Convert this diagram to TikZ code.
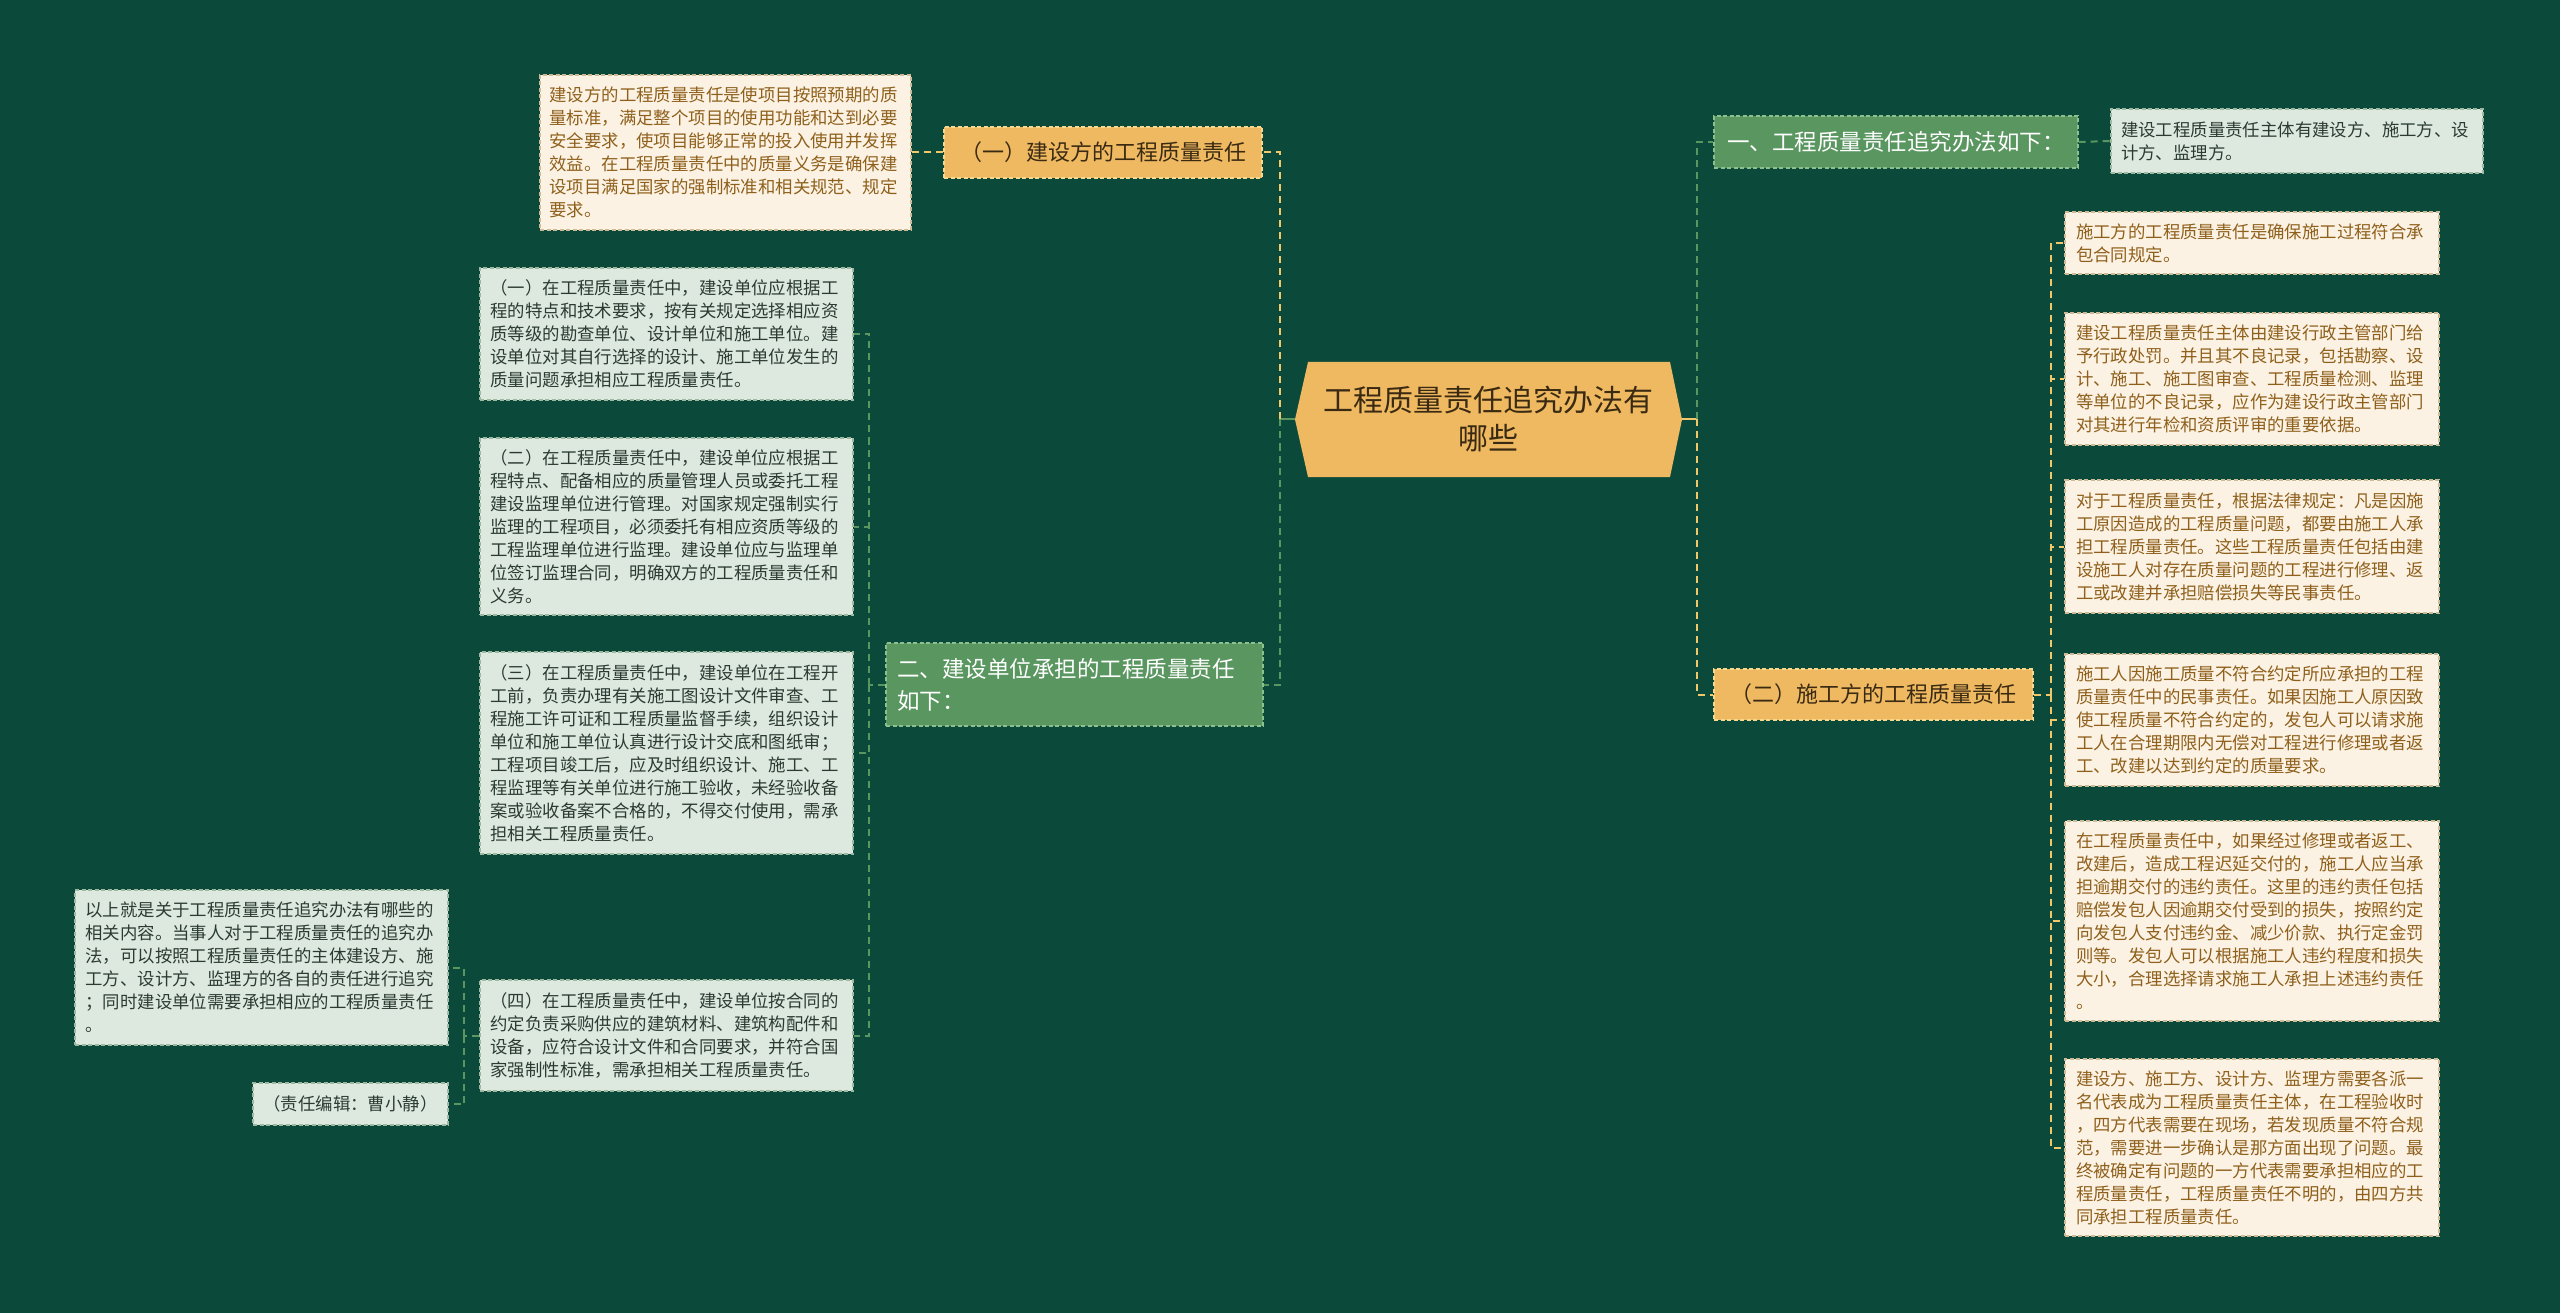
\documentclass[tikz,border=0pt]{standalone}
\usepackage{fontspec}
\setmainfont{Noto Sans CJK SC}
\usetikzlibrary{calc}
\definecolor{bgc}{HTML}{0B4A3B}
\definecolor{orng}{HTML}{EFB962}
\definecolor{orngb}{HTML}{F8D78F}
\definecolor{darkt}{HTML}{3A2A12}
\definecolor{cream}{HTML}{FCF2E3}
\definecolor{creamb}{HTML}{CDBB98}
\definecolor{creamt}{HTML}{8E601C}
\definecolor{pale}{HTML}{DDE9DF}
\definecolor{paleb}{HTML}{9EB8A2}
\definecolor{palet}{HTML}{2B3B33}
\definecolor{grn}{HTML}{5A9660}
\definecolor{grnb}{HTML}{8CC08F}
\definecolor{ylw}{HTML}{F0C86A}
\tikzset{
  base/.style={rectangle, inner sep=0pt, align=left, dash pattern=on 4pt off 2.5pt, line width=1.2pt},
  creambox/.style={base, fill=cream, draw=creamb, text=creamt, font=\fontsize{17.4}{23}\selectfont},
  palebox/.style={base, fill=pale, draw=paleb, text=palet, font=\fontsize{17.4}{23}\selectfont},
  orangebox/.style={base, fill=orng, draw=orngb, text=darkt, align=center, font=\fontsize{22}{30}\selectfont},
  greenbox/.style={base, fill=grn, draw=grnb, text=white, font=\fontsize{22.5}{32}\selectfont},
  yline/.style={draw=ylw, line width=2pt, dash pattern=on 7pt off 5pt},
  gline/.style={draw=grn, line width=2pt, dash pattern=on 7pt off 5pt},
}
\begin{document}
\begin{tikzpicture}[x=1pt,y=-1pt]
\useasboundingbox (0,0) rectangle (2560,1313);
\fill[bgc] (0,0) rectangle (2560,1313);

% central hexagon
\fill[orng] (1295,419.5) -- (1308,362) -- (1670,362) -- (1682,419.5) -- (1670,477) -- (1308,477) -- cycle;
\node[inner sep=0pt, minimum width=387pt, minimum height=115pt, align=center, text=darkt,
      font=\fontsize{30}{38}\selectfont] (ctr) at (1488.5,419.5) {工程质量责任追究办法有\\哪些};

% left branch 1
\node[orangebox, minimum width=318pt, minimum height=51pt] (L1) at (1103,152.5) {（一）建设方的工程质量责任};
\node[creambox, minimum width=371pt, minimum height=155pt, text width=352pt] (A) at (725.5,152.5)
{建设方的工程质量责任是使项目按照预期的质\\量标准，满足整个项目的使用功能和达到必要\\安全要求，使项目能够正常的投入使用并发挥\\效益。在工程质量责任中的质量义务是确保建\\设项目满足国家的强制标准和相关规范、规定\\要求。};

% left branch 2
\node[greenbox, minimum width=377pt, minimum height=83pt, text width=355pt] (L2) at (1074.5,684.5) {二、建设单位承担的工程质量责任\\如下：};
\node[palebox, minimum width=373pt, minimum height=132pt, text width=352pt] (C1) at (666.5,334)
{（一）在工程质量责任中，建设单位应根据工\\程的特点和技术要求，按有关规定选择相应资\\质等级的勘查单位、设计单位和施工单位。建\\设单位对其自行选择的设计、施工单位发生的\\质量问题承担相应工程质量责任。};
\node[palebox, minimum width=373pt, minimum height=177pt, text width=352pt] (C2) at (666.5,526.5)
{（二）在工程质量责任中，建设单位应根据工\\程特点、配备相应的质量管理人员或委托工程\\建设监理单位进行管理。对国家规定强制实行\\监理的工程项目，必须委托有相应资质等级的\\工程监理单位进行监理。建设单位应与监理单\\位签订监理合同，明确双方的工程质量责任和\\义务。};
\node[palebox, minimum width=373pt, minimum height=202pt, text width=352pt] (C3) at (666.5,753)
{（三）在工程质量责任中，建设单位在工程开\\工前，负责办理有关施工图设计文件审查、工\\程施工许可证和工程质量监督手续，组织设计\\单位和施工单位认真进行设计交底和图纸审；\\工程项目竣工后，应及时组织设计、施工、工\\程监理等有关单位进行施工验收，未经验收备\\案或验收备案不合格的，不得交付使用，需承\\担相关工程质量责任。};
\node[palebox, minimum width=373pt, minimum height=111pt, text width=352pt] (C4) at (666.5,1035.5)
{（四）在工程质量责任中，建设单位按合同的\\约定负责采购供应的建筑材料、建筑构配件和\\设备，应符合设计文件和合同要求，并符合国\\家强制性标准，需承担相关工程质量责任。};
\node[palebox, minimum width=373pt, minimum height=155pt, text width=352pt] (D1) at (261.5,967.5)
{以上就是关于工程质量责任追究办法有哪些的\\相关内容。当事人对于工程质量责任的追究办\\法，可以按照工程质量责任的主体建设方、施\\工方、设计方、监理方的各自的责任进行追究\\；同时建设单位需要承担相应的工程质量责任\\。};
\node[palebox, align=center, minimum width=195pt, minimum height=42pt] (D2) at (350.5,1104) {（责任编辑：曹小静）};

% right branch 1
\node[greenbox, minimum width=364pt, minimum height=52pt, align=center] (R1) at (1896,142) {一、工程质量责任追究办法如下：};
\node[palebox, minimum width=372pt, minimum height=64pt, text width=352pt] (R1c) at (2297,141)
{建设工程质量责任主体有建设方、施工方、设\\计方、监理方。};

% right branch 2
\node[orangebox, minimum width=319pt, minimum height=51pt] (R2) at (1873.5,694.5) {（二）施工方的工程质量责任};
\node[creambox, minimum width=374pt, minimum height=62pt, text width=352pt] (E1) at (2252,243)
{施工方的工程质量责任是确保施工过程符合承\\包合同规定。};
\node[creambox, minimum width=374pt, minimum height=132pt, text width=352pt] (E2) at (2252,379)
{建设工程质量责任主体由建设行政主管部门给\\予行政处罚。并且其不良记录，包括勘察、设\\计、施工、施工图审查、工程质量检测、监理\\等单位的不良记录，应作为建设行政主管部门\\对其进行年检和资质评审的重要依据。};
\node[creambox, minimum width=374pt, minimum height=133pt, text width=352pt] (E3) at (2252,546.5)
{对于工程质量责任，根据法律规定：凡是因施\\工原因造成的工程质量问题，都要由施工人承\\担工程质量责任。这些工程质量责任包括由建\\设施工人对存在质量问题的工程进行修理、返\\工或改建并承担赔偿损失等民事责任。};
\node[creambox, minimum width=374pt, minimum height=132pt, text width=352pt] (E4) at (2252,720)
{施工人因施工质量不符合约定所应承担的工程\\质量责任中的民事责任。如果因施工人原因致\\使工程质量不符合约定的，发包人可以请求施\\工人在合理期限内无偿对工程进行修理或者返\\工、改建以达到约定的质量要求。};
\node[creambox, minimum width=374pt, minimum height=200pt, text width=352pt] (E5) at (2252,921)
{在工程质量责任中，如果经过修理或者返工、\\改建后，造成工程迟延交付的，施工人应当承\\担逾期交付的违约责任。这里的违约责任包括\\赔偿发包人因逾期交付受到的损失，按照约定\\向发包人支付违约金、减少价款、执行定金罚\\则等。发包人可以根据施工人违约程度和损失\\大小，合理选择请求施工人承担上述违约责任\\。};
\node[creambox, minimum width=374pt, minimum height=177pt, text width=352pt] (E6) at (2252,1147.5)
{建设方、施工方、设计方、监理方需要各派一\\名代表成为工程质量责任主体，在工程验收时\\，四方代表需要在现场，若发现质量不符合规\\范，需要进一步确认是那方面出现了问题。最\\终被确定有问题的一方代表需要承担相应的工\\程质量责任，工程质量责任不明的，由四方共\\同承担工程质量责任。};

% bus points
\coordinate (lb) at (1280,419.5);
\coordinate (rb) at (1697,419.5);
\coordinate (l2b) at (869,684.5);
\coordinate (r2b) at (2051,694.5);
\coordinate (c4b) at (464,1035.5);

% connectors
\draw[draw=grn, line width=2pt] (ctr.west) -- (lb);
\draw[draw=ylw, line width=2pt] (ctr.east) -- (rb);
\draw[yline] (lb) |- (L1.east);
\draw[gline] (lb) |- (L2.east);
\draw[gline] (rb) |- (R1.west);
\draw[yline] (rb) |- (R2.west);
\draw[yline] (L1.west) -- (A.east);
\draw[gline] (R1.east) -- (R1c.west);
\draw[gline] (L2.west) -- (l2b);
\foreach \n in {C1,C2,C3,C4} \draw[gline] (l2b) |- (\n.east);
\draw[yline] (R2.east) -- (r2b);
\foreach \n in {E1,E2,E3,E4,E5,E6} \draw[yline] (r2b) |- (\n.west);
\draw[gline] (C4.west) -- (c4b);
\foreach \n in {D1,D2} \draw[gline] (c4b) |- (\n.east);
\end{tikzpicture}
\end{document}
